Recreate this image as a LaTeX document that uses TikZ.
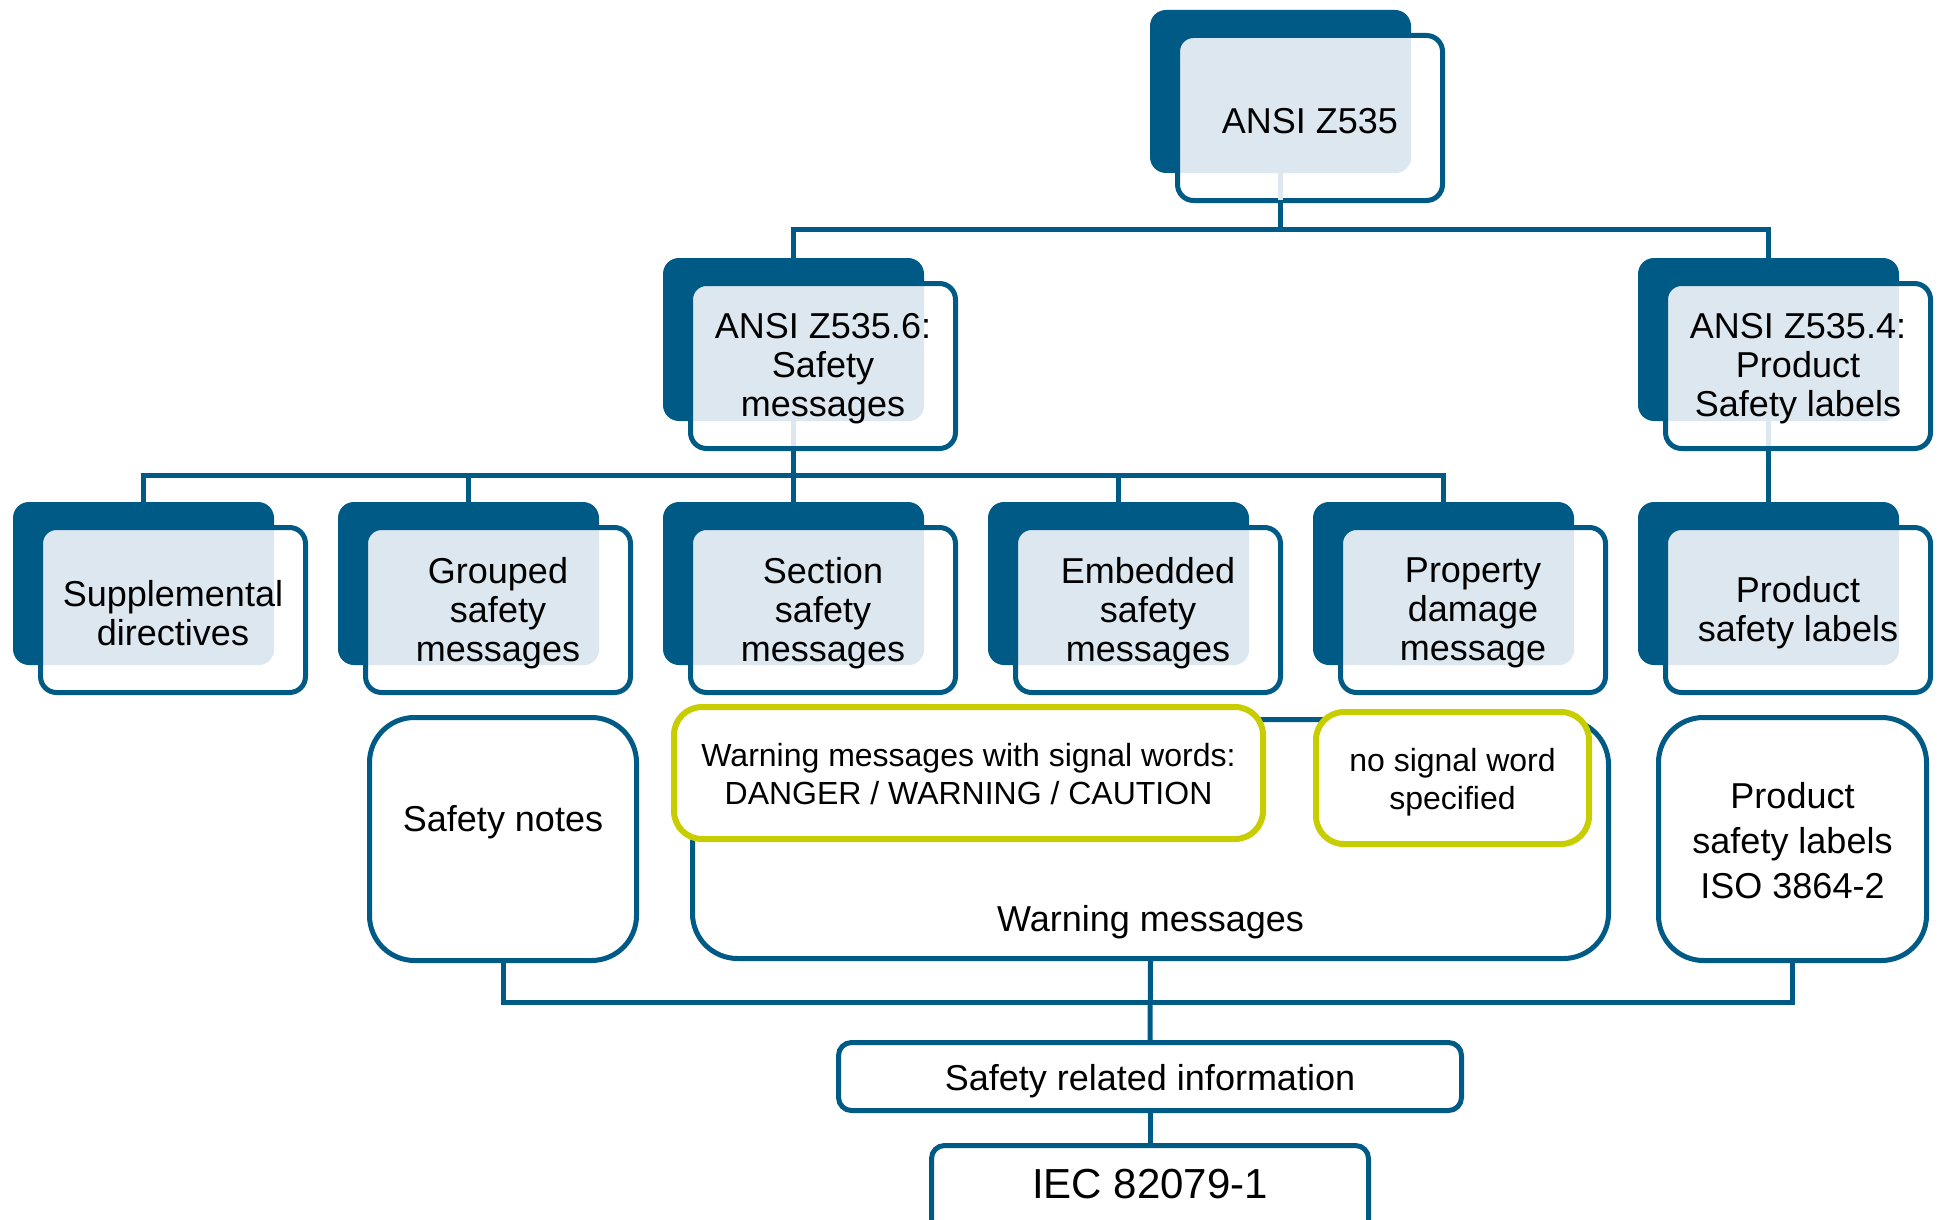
\documentclass[tikz,border=0pt]{standalone}
\usepackage{fontspec}
\setmainfont{Liberation Sans}
\definecolor{navy}{RGB}{0,90,134}
\definecolor{lime}{RGB}{200,205,0}
\definecolor{patc}{RGB}{220,231,239}
\tikzset{
 backbox/.style={fill=navy, draw=none, rounded corners=16pt, minimum width=261pt, minimum height=163pt, inner sep=0pt},
 frontbox/.style={draw=navy, line width=5pt, fill=white, rounded corners=16pt, minimum width=265pt, minimum height=165pt, inner sep=0pt},
 cardtxt/.style={inner sep=0pt, align=center, font=\fontsize{36}{39}\selectfont},
 conn/.style={draw=navy, line width=5pt},
 bigbox/.style={draw=navy, line width=5pt, fill=white, rounded corners=45pt, inner sep=0pt},
 ybox/.style={draw=lime, line width=6pt, fill=white, rounded corners=28pt, inner sep=0pt},
 ytxt/.style={inner sep=0pt, align=center, font=\fontsize{32}{38}\selectfont},
 infobox/.style={draw=navy, line width=5pt, fill=white, rounded corners=13pt, inner sep=0pt},
 txt/.style={inner sep=0pt, font=\fontsize{36}{40}\selectfont, align=center}
}
\newcommand\mycard[4]{%
 \node[backbox] (#1b) at ({#2+105.5},{#3+58.5}) {};
 \node[frontbox, path picture={\fill[patc, rounded corners=16pt] (#1b.north west) rectangle (#1b.south east);}] (#1) at ({#2+135},{#3+85}) {};
 \node[cardtxt] (#1t) at ({#2+135},{#3+88}) {#4};}
\begin{document}
\begin{tikzpicture}[x=1pt,y=-1pt]
\useasboundingbox[fill=white] (0,0) rectangle (1939,1220);
% cards
\mycard{z535}{1175}{33}{ANSI Z535}
\mycard{zsix}{688}{281}{ANSI Z535.6:\\Safety\\messages}
\mycard{zfour}{1663}{281}{ANSI Z535.4:\\Product\\Safety labels}
\mycard{sup}{38}{525}{Supplemental\\directives}
\mycard{grp}{363}{525}{Grouped\\safety\\messages}
\mycard{sec}{688}{525}{Section\\safety\\messages}
\mycard{emb}{1013}{525}{Embedded\\safety\\messages}
\mycard{prop}{1338}{525}{Property\\damage\\message}
\mycard{prod}{1663}{525}{Product\\safety labels}
% small pattern strips under connectors
\fill[patc] (1277.5,173) rectangle (1282.5,200);
\fill[patc] (791,421) rectangle (796,446);
\fill[patc] (1766,421) rectangle (1771,446);
% top connectors
\draw[conn] (z535b.north |- z535.south) -- (z535b.north |- 0,229);
\draw[conn] (zsixb.north) |- (zfourb.north |- 0,229) -- (zfourb.north);
% second level
\draw[conn] (zsixb.north |- zsix.south) -- (secb.north);
\draw[conn] (supb.north) |- (propb.north |- 0,475) -- (propb.north);
\draw[conn] (grpb.north) -- (grpb.north |- 0,475);
\draw[conn] (embb.north) -- (embb.north |- 0,475);
\draw[conn] (zfourb.north |- zfour.south) -- (prodb.north);
% bottom row
\node[bigbox, minimum width=267pt, minimum height=243pt] (notes) at (503,839) {};
\node[txt] (notest) at (503,822) {Safety notes};
\node[bigbox, minimum width=916pt, minimum height=239pt] (warn) at (1150.5,839) {};
\node[txt] (warnt) at (1150.5,922) {Warning messages};
\node[ybox, minimum width=589pt, minimum height=132pt] (yone) at (968.5,773) {};
\node[ytxt] (yonet) at (968.5,774) {Warning messages with signal words:\\DANGER / WARNING / CAUTION};
\node[ybox, minimum width=273pt, minimum height=132pt] (ytwo) at (1452.5,778) {};
\node[ytxt] (ytwot) at (1452.5,782) {no signal word\\specified};
\node[bigbox, minimum width=268pt, minimum height=243pt] (iso) at (1792.5,839) {};
\node[txt, font=\fontsize{36}{45}\selectfont] (isot) at (1792.5,841) {Product\\safety labels\\ISO 3864-2};
\node[infobox, minimum width=623pt, minimum height=68pt] (info) at (1150,1076.5) {};
\node[txt] (infot) at (1150,1081) {Safety related information};
\node[infobox, minimum width=437pt, minimum height=92pt] (iec) at (1150,1191.5) {};
\node[txt, font=\fontsize{42}{48}\selectfont] (iect) at (1150,1184) {IEC 82079-1};
% bottom connectors
\draw[conn] (notes.south) |- (iso.south |- 0,1002) -- (iso.south);
\draw[conn] (warn.south) -- (info.north);
\draw[conn] (info.south) -- (iec.north);
\end{tikzpicture}
\end{document}
